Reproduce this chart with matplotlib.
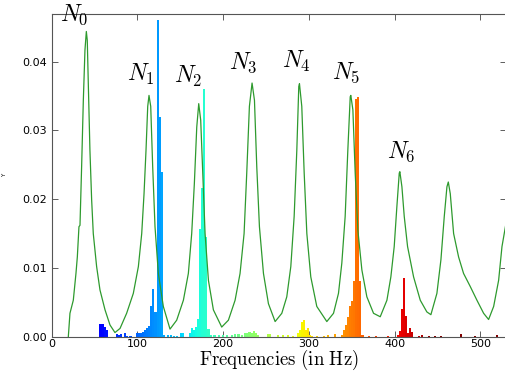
import matplotlib

matplotlib.use('Agg')
import matplotlib.pyplot as plt
import numpy as np

plt.rcParams['mathtext.fontset'] = 'cm'

# green spectrum curve (Hz, amplitude)
curve_hz = [19.5, 21.4, 25.3, 28.4, 30.0, 31.9, 33.1, 35.0, 37.0, 38.9, 40.5, 41.6, 42.8, 44.7,
            46.7, 48.6, 52.5, 56.4, 62.3, 68.1, 73.9, 79.8, 87.5, 95.3, 101.2, 105.1, 107.8,
            110.1, 112.1, 113.6, 115.6, 117.9, 120.6, 124.5, 130.3, 138.1, 145.9, 153.7, 159.5,
            163.4, 166.5, 169.3, 171.6, 173.9, 176.3, 179.0, 182.9, 188.7, 198.4, 206.2, 214.0,
            219.8, 224.5, 227.6, 230.7, 233.8, 236.6, 239.3, 242.4, 247.1, 252.9, 260.7, 268.5,
            274.3, 279.0, 282.9, 286.0, 288.3, 289.1, 291.8, 294.6, 297.7, 302.3, 309.3, 321.0,
            328.8, 334.6, 338.5, 342.4, 345.5, 348.3, 349.0, 351.4, 354.1, 357.2, 361.9, 367.7,
            375.5, 383.3, 391.1, 395.7, 399.6, 402.7, 405.5, 406.2, 408.6, 411.3, 415.2, 422.2,
            430.0, 437.7, 442.4, 449.4, 454.1, 458.0, 461.1, 462.7, 465.0, 468.9, 474.7, 480.5,
            488.3, 496.1, 503.9, 509.7, 515.6, 521.4, 525.3, 530.3]
curve_val = [0.0, 0.0034, 0.0053, 0.0092, 0.0116, 0.0160, 0.0162, 0.0247, 0.0344, 0.0417, 0.0444,
             0.0431, 0.0368, 0.0271, 0.0199, 0.0150, 0.0102, 0.0068, 0.0039, 0.0017, 0.0006,
             0.0012, 0.0034, 0.0063, 0.0102, 0.0150, 0.0208, 0.0271, 0.0335, 0.0351, 0.0335,
             0.0247, 0.0160, 0.0092, 0.0044, 0.0011, 0.0024, 0.0053, 0.0092, 0.0150, 0.0223,
             0.0305, 0.0339, 0.0315, 0.0238, 0.0150, 0.0082, 0.0039, 0.0014, 0.0024, 0.0053,
             0.0092, 0.0150, 0.0238, 0.0335, 0.0369, 0.0344, 0.0247, 0.0160, 0.0092, 0.0048,
             0.0022, 0.0034, 0.0058, 0.0102, 0.0175, 0.0271, 0.0364, 0.0368, 0.0335, 0.0238,
             0.0150, 0.0087, 0.0044, 0.0022, 0.0034, 0.0063, 0.0107, 0.0175, 0.0271, 0.0349,
             0.0351, 0.0330, 0.0238, 0.0155, 0.0097, 0.0058, 0.0034, 0.0029, 0.0053, 0.0087,
             0.0131, 0.0189, 0.0238, 0.0240, 0.0218, 0.0175, 0.0131, 0.0087, 0.0053, 0.0036,
             0.0032, 0.0063, 0.0112, 0.0175, 0.0218, 0.0225, 0.0208, 0.0150, 0.0116, 0.0092,
             0.0073, 0.0053, 0.0034, 0.0025, 0.0044, 0.0082, 0.0131, 0.0167]

# histogram bins (centre Hz, height)
bin_hz = [57.0, 59.4, 61.8, 64.2, 76.0, 78.4, 81.0, 85.5, 88.0, 92.0,
          99.6, 102.0, 104.4, 106.8, 109.2, 111.6, 114.0, 116.4, 118.8, 121.2, 123.6, 126.2,
          128.8, 131.4, 136.0, 139.0, 143.0, 146.0,
          150.5, 153.0, 161.4, 163.8, 166.2, 168.6, 171.0, 173.4, 175.8, 178.2, 180.6, 183.0,
          185.4, 190.0, 195.0, 200.0, 205.0, 210.0, 214.0, 218.0, 222.0, 226.0, 228.4, 230.8,
          233.2, 235.6, 238.0, 240.4, 252.0, 254.4, 264.0, 270.0, 276.0, 282.0,
          287.0, 289.4, 291.8, 294.2, 296.6, 299.0, 301.4, 304.0, 310.0, 318.0, 322.0, 331.0,
          338.6, 341.0, 343.4, 345.8, 348.2, 350.6, 353.0, 355.4, 357.8, 360.2, 362.6,
          370.0, 378.0, 392.0, 404.0, 406.2, 408.6, 411.0, 413.4, 415.8, 418.2, 420.6, 428.0,
          432.0, 440.0, 447.0, 454.0, 478.0, 494.0, 519.0]
bin_val = [0.0019, 0.0018, 0.0014, 0.0009, 0.0004, 0.0002, 0.0004, 0.0005, 0.0001, 0.0001,
           0.0006, 0.0006, 0.0005, 0.0007, 0.0009, 0.0012, 0.0016, 0.0044, 0.0069, 0.0036,
           0.0460, 0.0320, 0.0240, 0.0002, 0.0002, 0.0002, 0.0001, 0.0001,
           0.0005, 0.0005, 0.0005, 0.0012, 0.0009, 0.0014, 0.0026, 0.0156, 0.0217, 0.0360,
           0.0145, 0.0011, 0.0003, 0.0002, 0.0002, 0.0003, 0.0003, 0.0003, 0.0004, 0.0004,
           0.0003, 0.0005, 0.0006, 0.0007, 0.0006, 0.0008, 0.0005, 0.0003, 0.0004, 0.0004,
           0.0002, 0.0003, 0.0002, 0.0001,
           0.0006, 0.0009, 0.0022, 0.0024, 0.0010, 0.0012, 0.0003, 0.0001, 0.0001, 0.0001,
           0.0002, 0.0004,
           0.0003, 0.0010, 0.0017, 0.0029, 0.0044, 0.0052, 0.0081, 0.0346, 0.0349, 0.0081,
           0.0002,
           0.0001, 0.0001, 0.0001, 0.0002, 0.0008, 0.0040, 0.0086, 0.0030, 0.0005, 0.0013,
           0.0007, 0.0001, 0.0002, 0.0001, 0.0001, 0.0001, 0.0004, 0.0001, 0.0002]

# peak labels
label_text = ['$N_0$', '$N_1$', '$N_2$', '$N_3$', '$N_4$', '$N_5$', '$N_6$']
label_hz = [26.1, 103.9, 159.5, 223.0, 285.2, 343.6, 407.8]
label_val = [0.0468, 0.0382, 0.0379, 0.0398, 0.0400, 0.0384, 0.0269]

fig = plt.figure(figsize=(5.06, 3.71), dpi=100)
ax = fig.add_axes([0.102, 0.0925, 0.898, 0.869])

colors = plt.cm.jet(np.array(bin_hz) / 450.0)
ax.bar(bin_hz, bin_val, width=2.4, color=colors, linewidth=0, zorder=2)
ax.plot(curve_hz, curve_val, color='#2e9a2e', linewidth=0.9, zorder=3)

for txt, x, y in zip(label_text, label_hz, label_val):
    ax.text(x, y, txt, fontsize=17, ha='center', va='center', clip_on=False, zorder=4)

ax.set_xlim(0, 530)
ax.set_ylim(0, 0.0469)
ax.set_xticks([0, 100, 200, 300, 400, 500])
ax.set_yticks([0.0, 0.01, 0.02, 0.03, 0.04])
ax.set_yticklabels(['0.00', '0.01', '0.02', '0.03', '0.04'])
ax.tick_params(direction='in', length=4, width=0.6, labelsize=8, top=True, right=True,
               colors='#444444', labelcolor='black')
ax.tick_params(axis='x', pad=1.5)
for sp in ax.spines.values():
    sp.set_color('#555555')
ax.set_xlabel(r'$\mathrm{Frequencies\ (in\ Hz)}$', fontsize=13.5, labelpad=-0.5)
ax.set_ylabel('Y', fontsize=4, labelpad=11)

plt.savefig('out.png', dpi=100)
